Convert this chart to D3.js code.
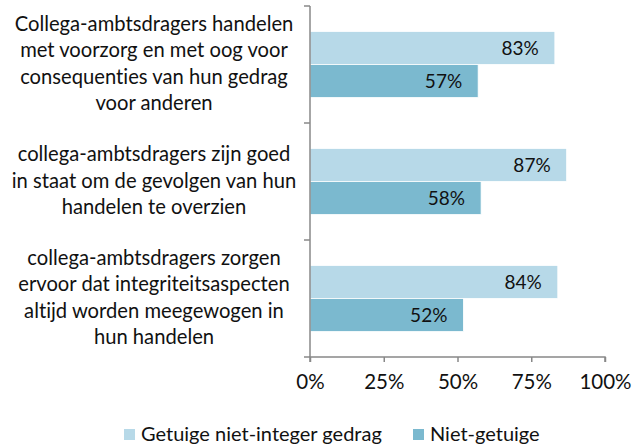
<!DOCTYPE html>
<html>
<head>
<meta charset="utf-8">
<script src="https://cdn.jsdelivr.net/npm/d3@7/dist/d3.min.js"></script>
<style>
  html, body { margin: 0; padding: 0; background: #fff; }
  svg text { font-family: Lato, "Open Sans", sans-serif; fill: #111; font-variant-ligatures: none; font-feature-settings: "liga" 0, "dlig" 0; }
</style>
</head>
<body>
<svg id="chart" width="632" height="447"></svg>
<script>
// Statements (each wrapped into the lines shown beside the bars)
const categories = [
  ["Collega-ambtsdragers handelen", "met voorzorg en met oog voor", "consequenties van hun gedrag", "voor anderen"],
  ["collega-ambtsdragers zijn goed", "in staat om de gevolgen van hun", "handelen te overzien"],
  ["collega-ambtsdragers zorgen", "ervoor dat integriteitsaspecten", "altijd worden meegewogen in", "hun handelen"]
];
const seriesNames = ["Getuige niet-integer gedrag", "Niet-getuige"];
const getuige = [83, 87, 84];
const nietGetuige = [57, 58, 52];
const tickValues = [0, 25, 50, 75, 100];
const colors = ["#b7d9e8", "#7bb9cf"];

const svg = d3.select("#chart");
const x0 = 310, x1 = 605, yTop = 6, yBottom = 357;

const x = d3.scaleLinear().domain([0, 100]).range([x0, x1]);
const y = d3.scaleBand().domain(d3.range(categories.length)).range([yTop, yBottom]).padding(0);
const inner = d3.scaleBand().domain([0, 1]).range([0, y.bandwidth()]).paddingInner(0).paddingOuter(0.77);

const series = [getuige, nietGetuige];

// bars
series.forEach((vals, s) => {
  const g = svg.append("g");
  g.selectAll("rect").data(vals).join("rect")
    .attr("x", x(0))
    .attr("y", (d, i) => y(i) + inner(s))
    .attr("width", d => x(d) - x(0))
    .attr("height", inner.bandwidth())
    .attr("fill", colors[s])
    .attr("stroke", "#fff")
    .attr("stroke-width", 0.8);
  g.selectAll("text").data(vals).join("text")
    .attr("x", d => x(d) - 16)
    .attr("y", (d, i) => y(i) + inner(s) + inner.bandwidth() / 2)
    .attr("dy", "0.36em")
    .attr("text-anchor", "end")
    .style("font-size", "19px")
    .text(d => d + "%");
});

// x axis
const xAxis = d3.axisBottom(x).tickValues(tickValues).tickFormat(d => d + "%").tickSize(5).tickPadding(12);
const gx = svg.append("g").attr("transform", `translate(0,${yBottom})`).call(xAxis);
gx.select(".domain").attr("stroke", "#888").attr("stroke-width", 1.5).attr("d", `M${x0},5V0H${x1}V5`);
gx.selectAll(".tick line").attr("stroke", "#888").attr("stroke-width", 1.5);
gx.selectAll(".tick text").style("font-size", "20.5px").style("font-family", "Lato, sans-serif").attr("fill", "#111");

// y axis: line with boundary ticks between categories
const gy = svg.append("g");
gy.append("line").attr("x1", x0).attr("x2", x0).attr("y1", yTop).attr("y2", yBottom)
  .attr("stroke", "#888").attr("stroke-width", 1.5);
gy.selectAll("line.tk").data(d3.range(categories.length + 1)).join("line")
  .attr("class", "tk")
  .attr("x1", x0 - 6).attr("x2", x0)
  .attr("y1", i => i < categories.length ? y(i) : yBottom)
  .attr("y2", i => i < categories.length ? y(i) : yBottom)
  .attr("stroke", "#888").attr("stroke-width", 1.5);

// category labels
const lineH = 26.3;
categories.forEach((lines, i) => {
  const cy = y(i) + y.bandwidth() / 2;
  const t = svg.append("text").attr("text-anchor", "middle").style("font-size", "20.2px");
  lines.forEach((ln, k) => {
    t.append("tspan")
      .attr("x", 154)
      .attr("y", cy + (k - (lines.length - 1) / 2) * lineH + 6)
      .text(ln);
  });
});

// legend
const legendX = [124, 413];
seriesNames.forEach((name, s) => {
  svg.append("rect").attr("x", legendX[s]).attr("y", 429).attr("width", 11).attr("height", 11).attr("fill", colors[s]);
  svg.append("text").attr("x", legendX[s] + 17).attr("y", 441).style("font-size", "20px").text(name);
});
</script>
</body>
</html>
